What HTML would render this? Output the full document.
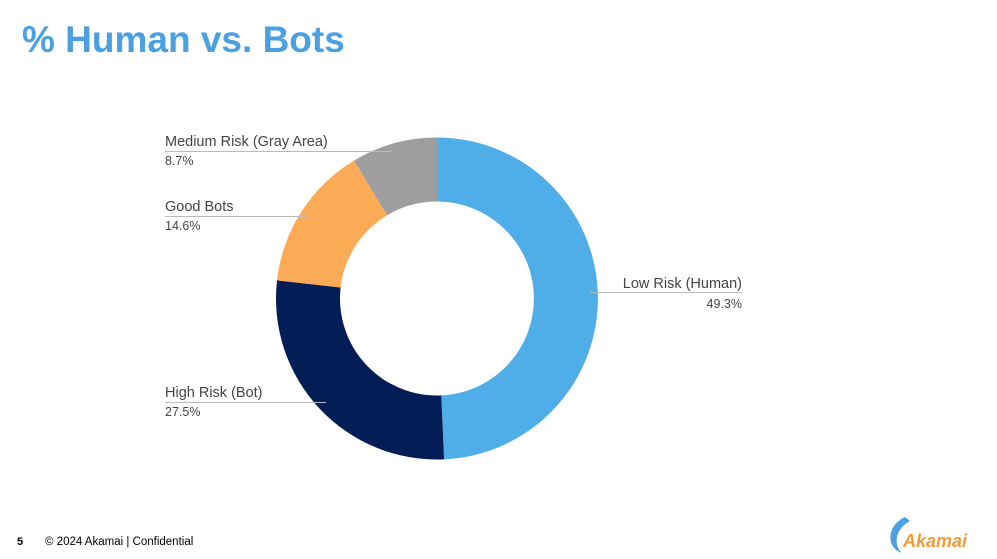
<!DOCTYPE html>
<html><head><meta charset="utf-8"><style>
body{margin:0;width:997px;height:559px;background:#fff;overflow:hidden;font-family:"Liberation Sans",sans-serif;position:relative}
.t{position:absolute;left:22px;top:19px;font-size:37px;font-weight:bold;color:#4aa0e2}
</style></head><body>
<div class="t">% Human vs. Bots</div>
<svg width="997" height="559" style="position:absolute;left:0;top:0">
<path d="M437,137.5 A161,161 0 0 1 444.08,459.34 L441.27,395.4 A97,97 0 0 0 437,201.5 Z" fill="#4fade8"/>
<path d="M444.08,459.34 A161,161 0 0 1 277.03,280.33 L340.62,287.55 A97,97 0 0 0 441.27,395.4 Z" fill="#031d57"/>
<path d="M277.03,280.33 A161,161 0 0 1 354.18,160.44 L387.1,215.32 A97,97 0 0 0 340.62,287.55 Z" fill="#fbab55"/>
<path d="M354.18,160.44 A161,161 0 0 1 437,137.5 L437,201.5 A97,97 0 0 0 387.1,215.32 Z" fill="#9e9da0"/>
<g stroke="#bbb" stroke-width="1">
<line x1="165" y1="151.5" x2="393" y2="151.5"/>
<line x1="165" y1="216.5" x2="308" y2="216.5"/>
<line x1="165" y1="402.5" x2="326" y2="402.5"/>
<line x1="590" y1="292.5" x2="742" y2="292.5"/>
</g>
<g font-family="Liberation Sans, sans-serif" font-size="14.5" fill="#444">
<text x="165" y="146">Medium Risk (Gray Area)</text>
<text x="165" y="165" font-size="12.5">8.7%</text>
<text x="165" y="211">Good Bots</text>
<text x="165" y="230" font-size="12.5">14.6%</text>
<text x="165" y="397">High Risk (Bot)</text>
<text x="165" y="416" font-size="12.5">27.5%</text>
<text x="742" y="288" text-anchor="end">Low Risk (Human)</text>
<text x="742" y="308" font-size="12.5" text-anchor="end">49.3%</text>
</g>
<text x="17" y="545" font-size="11" font-weight="bold" fill="#000">5</text>
<text x="45" y="545" font-size="11.5" fill="#000">© 2024 Akamai | Confidential</text>
<path d="M905,517 C886,526 886,548 902,553 C893,545 895,529 910,521 Z" fill="#4aa0e2"/>
<text x="903" y="547" font-size="18" font-weight="bold" font-style="italic" fill="#f39a3b">Akamai</text>
</svg>
</body></html>
